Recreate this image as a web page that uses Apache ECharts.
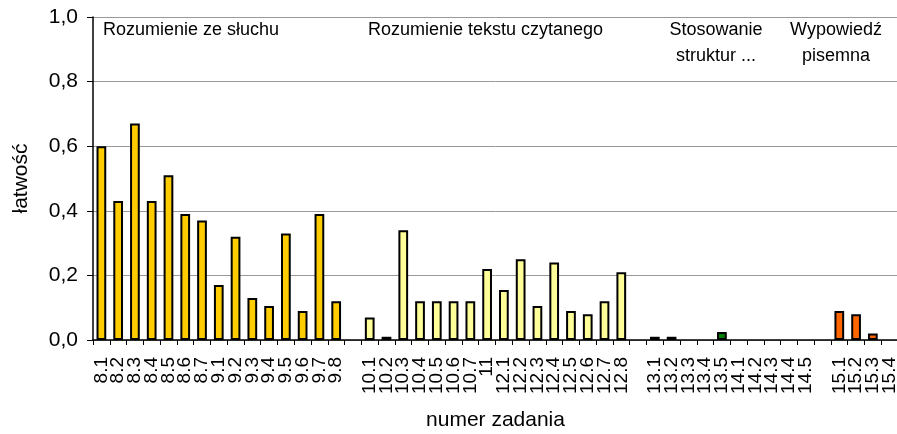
<!DOCTYPE html>
<html>
<head>
<meta charset="utf-8">
<script src="https://cdn.jsdelivr.net/npm/echarts@6/dist/echarts.min.js"></script>
<style>
  html, body { margin: 0; padding: 0; background: #ffffff; }
  #chart { width: 897px; height: 434px; }
</style>
</head>
<body>
<div id="chart"></div>
<script>
// Task numbers per section of the exam
const listeningTasks = ['8.1', '8.2', '8.3', '8.4', '8.5', '8.6', '8.7', '9.1', '9.2', '9.3', '9.4', '9.5', '9.6', '9.7', '9.8'];
const readingTasks = ['10.1', '10.2', '10.3', '10.4', '10.5', '10.6', '10.7', '11', '12.1', '12.2', '12.3', '12.4', '12.5', '12.6', '12.7', '12.8'];
const structureTasks = ['13.1', '13.2', '13.3', '13.4', '13.5', '14.1', '14.2', '14.3', '14.4', '14.5'];
const writingTasks = ['15.1', '15.2', '15.3', '15.4'];

// Facility index (łatwość) of each task
const listeningValues = [0.60, 0.43, 0.67, 0.43, 0.51, 0.39, 0.37, 0.17, 0.32, 0.13, 0.105, 0.33, 0.09, 0.39, 0.12];
const readingValues = [0.07, 0.01, 0.34, 0.12, 0.12, 0.12, 0.12, 0.22, 0.155, 0.25, 0.105, 0.24, 0.09, 0.08, 0.12, 0.21];
const structureValues = [0.01, 0.01, 0, 0, 0.025, 0, 0, 0, 0, 0];
const writingValues = [0.09, 0.08, 0.02, 0];

const yTicks = [0, 0.2, 0.4, 0.6, 0.8, 1.0];

const sections = [
  { tasks: listeningTasks, values: listeningValues, color: '#FFCC00' },
  { tasks: readingTasks, values: readingValues, color: '#FFFF99' },
  { tasks: structureTasks, values: structureValues, color: '#008000' },
  { tasks: writingTasks, values: writingValues, color: '#FF6600' }
];

// Build the category axis with an empty slot between sections
const categories = [];
const barData = [];
sections.forEach((s, i) => {
  if (i > 0) {
    categories.push(' '.repeat(i));
    barData.push('-');
  }
  s.tasks.forEach((t, j) => {
    const v = s.values[j];
    categories.push(t);
    // zero-height bars get no outline so nothing is drawn on the axis
    barData.push({ value: v, itemStyle: { color: s.color, borderWidth: v === 0 ? 0 : 2 } });
  });
});

const font = 'Liberation Sans, Arial, sans-serif';
const chart = echarts.init(document.getElementById('chart'), null, { renderer: 'canvas' });

chart.setOption({
  animation: false,
  backgroundColor: '#ffffff',
  grid: { left: 93, right: -1, top: 17, bottom: 94, containLabel: false, outerBoundsMode: 'none' },
  xAxis: {
    type: 'category',
    data: categories,
    boundaryGap: true,
    name: 'numer zadania',
    nameLocation: 'middle',
    nameGap: 70,
    nameTextStyle: { fontFamily: font, fontSize: 21, color: '#000' },
    axisLine: { lineStyle: { color: '#000', width: 1.5 } },
    axisTick: { show: true, interval: 0, length: 5, lineStyle: { color: '#000', width: 1 } },
    axisLabel: { interval: 0, rotate: 90, margin: 17, fontFamily: font, fontSize: 19, color: '#000' },
    splitLine: { show: false }
  },
  yAxis: {
    type: 'value',
    min: yTicks[0],
    max: yTicks[yTicks.length - 1],
    interval: 0.2,
    name: 'łatwość',
    nameLocation: 'middle',
    nameGap: 61,
    nameRotate: 90,
    nameTextStyle: { fontFamily: font, fontSize: 21, color: '#000' },
    axisLine: { show: true, lineStyle: { color: '#000', width: 1.5 } },
    axisTick: { show: true, length: 6, lineStyle: { color: '#000', width: 1 } },
    axisLabel: {
      margin: 15,
      fontFamily: font,
      fontSize: 21,
      color: '#000',
      formatter: v => v.toFixed(1).replace('.', ',')
    },
    splitLine: { show: true, lineStyle: { color: '#999', width: 1 } }
  },
  series: [{
    type: 'bar',
    data: barData,
    barWidth: '58%',
    itemStyle: { borderColor: '#000', borderWidth: 2 }
  }],
  graphic: [
    { type: 'text', left: 103, top: 21, style: { text: 'Rozumienie ze słuchu', font: '18px ' + font, fill: '#000' } },
    { type: 'text', left: 368, top: 21, style: { text: 'Rozumienie tekstu czytanego', font: '18px ' + font, fill: '#000' } },
    { type: 'text', x: 716, y: 17, style: { text: 'Stosowanie\nstruktur ...', font: '18px ' + font, fill: '#000', align: 'center', lineHeight: 26 } },
    { type: 'text', x: 836, y: 17, style: { text: 'Wypowiedź\npisemna', font: '18px ' + font, fill: '#000', align: 'center', lineHeight: 26 } }
  ]
});
</script>
</body>
</html>
